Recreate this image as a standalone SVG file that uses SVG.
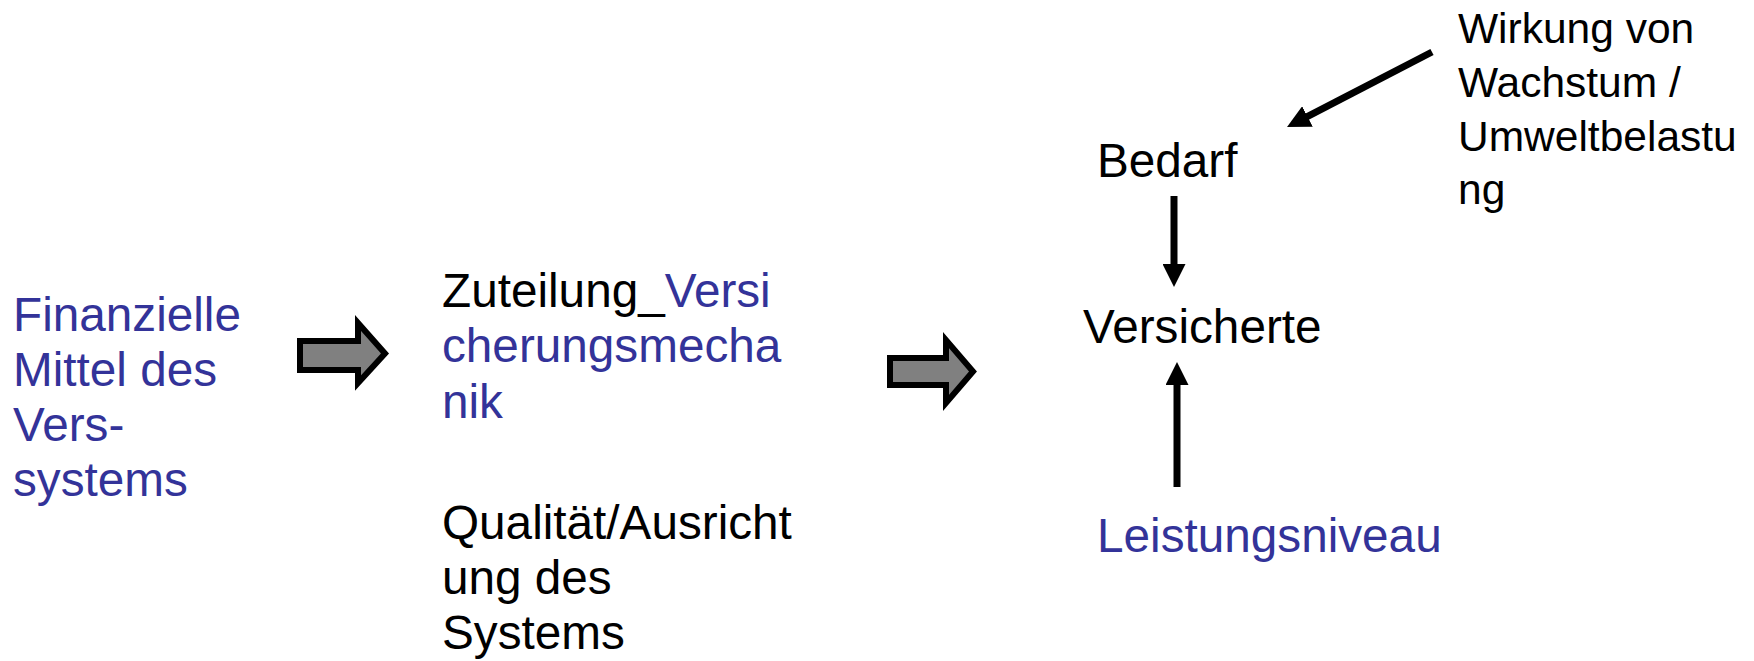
<svg xmlns="http://www.w3.org/2000/svg" width="1754" height="661" viewBox="0 0 1754 661">
<style>
text{font-family:"Liberation Sans",Arial,sans-serif;font-size:47.7px;fill:#000}
.b{fill:#333399}
.s{font-size:42.5px}
.blk{fill:#808080;stroke:#000;stroke-width:6;stroke-linejoin:miter}
.ln{stroke:#000;stroke-width:7;fill:none}
</style>
<defs>
<marker id="ah" markerUnits="userSpaceOnUse" markerWidth="23" markerHeight="23" viewBox="0 0 23 23" refX="3" refY="11.5" orient="auto">
<path d="M0,0 L23,11.5 L0,23 z" fill="#000"/>
</marker>
</defs>
<rect width="1754" height="661" fill="#fff"/>
<g id="finanzielle">
<text class="b" x="13" y="331">Finanzielle</text>
<text class="b" x="13" y="386">Mittel des</text>
<text class="b" x="13" y="441">Vers-</text>
<text class="b" x="13" y="496">systems</text>
</g>
<g id="zuteilung">
<text x="442" y="306.5">Zuteilung_<tspan class="b">Versi</tspan></text>
<text class="b" x="442" y="362">cherungsmecha</text>
<text class="b" x="442" y="417.5">nik</text>
</g>
<g id="qualitaet">
<text x="442" y="539">Qualität/Ausricht</text>
<text x="442" y="594">ung des</text>
<text x="442" y="649">Systems</text>
</g>
<g id="bedarf"><text x="1097" y="176.7">Bedarf</text></g>
<g id="versicherte"><text x="1083" y="343.3">Versicherte</text></g>
<g id="leistungsniveau"><text class="b" x="1097" y="552">Leistungsniveau</text></g>
<g id="wirkung">
<text class="s" x="1458" y="43.3">Wirkung von</text>
<text class="s" x="1458" y="97">Wachstum /</text>
<text class="s" x="1458" y="150.7">Umweltbelastu</text>
<text class="s" x="1458" y="204.4">ng</text>
</g>
<g id="connectors">
<polygon class="blk" points="300,341 358,341 358,323 385,353.5 358,383 358,370 300,370"/>
<polygon class="blk" points="890,358 946,358 946,340 973,371.5 946,403 946,385 890,385"/>
<line class="ln" x1="1174" y1="196" x2="1174" y2="267" marker-end="url(#ah)"/>
<line class="ln" x1="1177" y1="487" x2="1177" y2="382" marker-end="url(#ah)"/>
<line class="ln" x1="1432" y1="52" x2="1304.8" y2="117.8" marker-end="url(#ah)"/>
</g>
</svg>
